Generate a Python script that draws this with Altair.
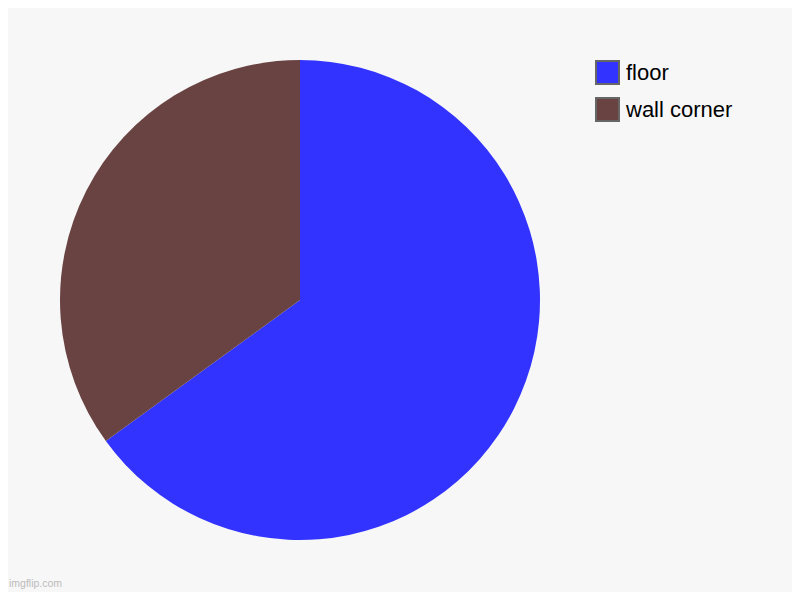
import altair as alt
import pandas as pd

categories = ["floor", "wall corner"]
values = [65, 35]
colors = ["#3333ff", "#694242"]
order_idx = [0, 1]

df = pd.DataFrame({"category": categories, "value": values, "idx": order_idx})

pie = alt.Chart(df).mark_arc(radius=240, stroke=None).encode(
    theta=alt.Theta("value:Q", stack=True),
    order=alt.Order("idx:Q", sort="ascending"),
    color=alt.Color(
        "category:N",
        scale=alt.Scale(domain=categories, range=colors),
        sort=categories,
        legend=alt.Legend(
            title=None,
            orient="none",
            legendX=587,
            legendY=52,
            symbolType="square",
            symbolSize=529,
            symbolStrokeColor="#666666",
            symbolStrokeWidth=2,
            symbolOpacity=1,
            labelFontSize=22,
            labelFont="Liberation Sans",
            labelColor="#000000",
            labelOffset=6,
            rowPadding=6,
            labelLimit=300,
        ),
    ),
    x=alt.value(292),
    y=alt.value(292),
)

wm = alt.Chart(pd.DataFrame({"t": ["imgflip.com"]})).mark_text(
    align="left", baseline="middle", fontSize=10.5, font="Liberation Sans", color="#bbbbbb"
).encode(text="t:N", x=alt.value(1), y=alt.value(576))

chart = alt.layer(pie, wm).properties(
    width=784, height=584, padding=0, background="#f7f7f7",
    autosize=alt.AutoSizeParams(type="none"),
).configure_view(stroke=None)

chart.save("out.html", embed_options={"renderer": "svg", "actions": False})
